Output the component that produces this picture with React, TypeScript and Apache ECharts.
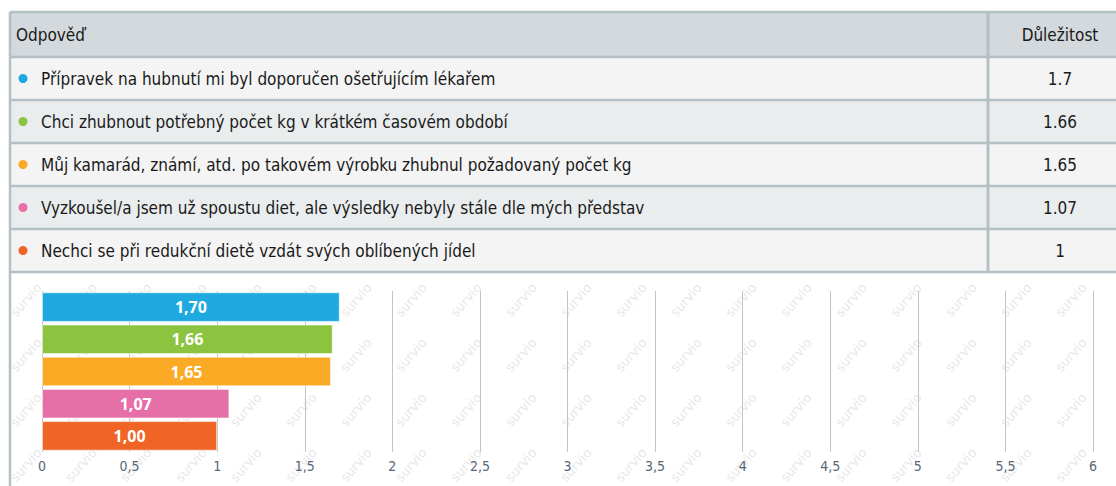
import React, { useEffect, useRef } from "react";
import * as echarts from "echarts";

const headers = ["Odpověď", "Důležitost"];
const answers = [
  "Přípravek na hubnutí mi byl doporučen ošetřujícím lékařem",
  "Chci zhubnout potřebný počet kg v krátkém časovém období",
  "Můj kamarád, známí, atd. po takovém výrobku zhubnul požadovaný počet kg",
  "Vyzkoušel/a jsem už spoustu diet, ale výsledky nebyly stále dle mých představ",
  "Nechci se při redukční dietě vzdát svých oblíbených jídel",
];
const importance = [1.7, 1.66, 1.65, 1.07, 1];
const barColors = ["#1fa9e1", "#8cc43f", "#fbaa26", "#e76fa8", "#f06525"];
const axisMin = 0;
const axisMax = 6;
const axisStep = 0.5;

export default function App() {
  const ref = useRef<HTMLDivElement>(null);
  useEffect(() => {
    const chart = echarts.init(ref.current!, null, { renderer: "svg" });
    const W = 1116;
    const H = 486;
    const tableX = 10;
    const tableTop = 12;
    const headerH = 45;
    const rowH = 43;
    const colX = 988;
    const tableRight = W + 20;
    const font = "DejaVu Sans Condensed";
    const borderColor = "#b5c0c5";
    const els: any[] = [];

    // watermark
    for (let r = 0; r < 4; r++) {
      for (let c = 0; c < 20; c++) {
        els.push({
          type: "text",
          x: 26 + c * 55,
          y: 300 + r * 55,
          rotation: 0.85,
          z: -10,
          silent: true,
          style: {
            text: "survio",
            fontSize: 13,
            fontFamily: "DejaVu Sans",
            fill: "#e8e8e8",
            align: "center",
            verticalAlign: "middle",
          },
        });
      }
    }
    // white area left of the border
    els.push({ type: "rect", z: 90, silent: true, shape: { x: 0, y: 0, width: tableX - 1, height: H }, style: { fill: "#fff" } });

    const tableBottom = tableTop + headerH + answers.length * rowH;
    // header
    els.push({ type: "rect", z: 90, shape: { x: tableX, y: tableTop, width: tableRight - tableX, height: headerH }, style: { fill: "#d3d9dc" } });
    els.push({ type: "text", z: 95, style: { text: headers[0], x: 16, y: tableTop + headerH / 2, fontSize: 17, fontFamily: font, fill: "#1a1a1a", verticalAlign: "middle" } });
    els.push({ type: "text", z: 95, style: { text: headers[1], x: 1060, y: tableTop + headerH / 2, fontSize: 17, fontFamily: font, fill: "#1a1a1a", align: "center", verticalAlign: "middle" } });

    answers.forEach((a, i) => {
      const y0 = tableTop + headerH + i * rowH;
      const cy = y0 + rowH / 2;
      els.push({ type: "rect", z: 90, shape: { x: tableX, y: y0, width: tableRight - tableX, height: rowH }, style: { fill: i % 2 === 0 ? "#f4f4f4" : "#eaedee" } });
      els.push({ type: "circle", z: 95, shape: { cx: 23, cy, r: 4.5 }, style: { fill: barColors[i] } });
      els.push({ type: "text", z: 95, style: { text: a, x: 41, y: cy, fontSize: 17, fontFamily: font, fill: "#1a1a1a", verticalAlign: "middle" } });
      els.push({ type: "text", z: 95, style: { text: String(importance[i]), x: 1060, y: cy, fontSize: 17, fontFamily: font, fill: "#1a1a1a", align: "center", verticalAlign: "middle" } });
    });

    // horizontal borders
    for (let i = 0; i <= answers.length + 1; i++) {
      const y = i === 0 ? tableTop : tableTop + headerH + (i - 1) * rowH;
      els.push({ type: "line", z: 96, shape: { x1: tableX, y1: y, x2: tableRight, y2: y }, style: { stroke: borderColor, lineWidth: 2.5 } });
    }
    // vertical borders
    els.push({ type: "line", z: 96, shape: { x1: tableX, y1: tableTop, x2: tableX, y2: H }, style: { stroke: borderColor, lineWidth: 2.5 } });
    els.push({ type: "line", z: 96, shape: { x1: colX, y1: tableTop, x2: colX, y2: tableBottom }, style: { stroke: borderColor, lineWidth: 3 } });

    chart.setOption({
      animation: false,
      backgroundColor: "#ffffff",
      graphic: { elements: els },
      grid: { left: 42, right: 23, top: 291, bottom: 34, containLabel: false },
      xAxis: {
        type: "value",
        min: axisMin,
        max: axisMax,
        interval: axisStep,
        axisLine: { show: false },
        axisTick: { show: false },
        splitLine: { show: true, lineStyle: { color: "#c4c4c4", width: 1 } },
        axisLabel: {
          color: "#55677a",
          fontSize: 14,
          fontFamily: font,
          margin: 7,
          formatter: (v: number) => String(v).replace(".", ","),
        },
      },
      yAxis: {
        type: "category",
        inverse: true,
        data: answers,
        axisLine: { show: false },
        axisTick: { show: false },
        axisLabel: { show: false },
        splitLine: { show: false },
      },
      series: [
        {
          type: "bar",
          barCategoryGap: "8%",
          data: importance.map((v, i) => ({
            value: v,
            itemStyle: { color: barColors[i], borderColor: "rgba(255,255,255,0.55)", borderWidth: 1 },
          })),
          label: {
            show: true,
            position: "inside",
            color: "#ffffff",
            fontSize: 16,
            fontWeight: "bold",
            fontFamily: "Open Sans",
            formatter: (p: any) => p.value.toFixed(2).replace(".", ","),
          },
        },
      ],
    });
    return () => chart.dispose();
  }, []);
  return <div ref={ref} style={{ position: "absolute", left: 0, top: 0, width: 1116, height: 486 }} />;
}
